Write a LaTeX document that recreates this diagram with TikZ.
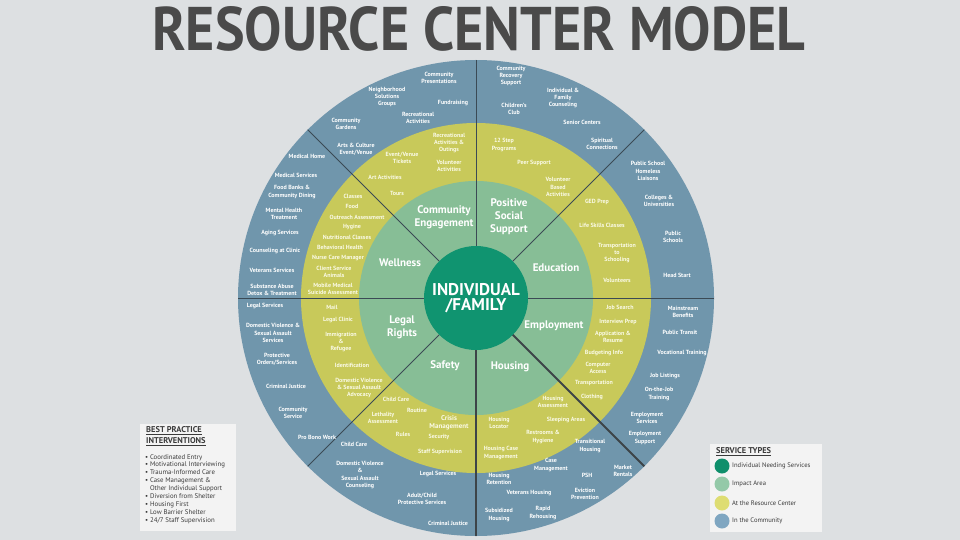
\documentclass[tikz,border=0pt]{standalone}
\usepackage{fontspec}
\setmainfont{PT Sans}
\usepackage{graphicx}
\definecolor{bgc}{HTML}{DDE0E2}
\definecolor{ringblue}{HTML}{7096AC}
\definecolor{ringyel}{HTML}{C8C95A}
\definecolor{ringlg}{HTML}{87BE96}
\definecolor{ringdg}{HTML}{109470}
\definecolor{titlec}{HTML}{4A4A4A}
\definecolor{sepc}{HTML}{3B4A55}
\definecolor{thickc}{HTML}{3D4448}
\definecolor{cream}{HTML}{FAFAE6}
\definecolor{legbg}{HTML}{F3F3F3}
\definecolor{legtx}{HTML}{3A3A3A}
\definecolor{kdg}{HTML}{0F8F6B}
\definecolor{klg}{HTML}{94C9A8}
\definecolor{kyl}{HTML}{DEDD72}
\definecolor{kbl}{HTML}{7FA6C1}
\tikzset{
  bt/.style={text=white, font=\bfseries\fontsize{6}{7.3}\selectfont, align=center, inner sep=0pt},
  yt/.style={bt, text=cream},
  gt/.style={text=white, font=\bfseries\fontsize{11}{13}\selectfont, align=center, inner sep=0pt},
  sepline/.style={draw=sepc, line width=0.8pt},
  thickline/.style={draw=thickc, line width=2pt},
  keydot/.style={circle, inner sep=0pt, minimum size=15pt},
  keytx/.style={anchor=west, text=legtx, font=\fontsize{6.6}{7.5}\selectfont, inner sep=0pt},
}
\begin{document}
\begin{tikzpicture}[x=1pt,y=-1pt]
\useasboundingbox (0,0) rectangle (960,540);
\fill[bgc] (0,0) rectangle (960,540);

% title
\node[anchor=south west, inner sep=0pt, text=titlec] (title) at (152,52)
  {\resizebox{653pt}{44pt}{\bfseries RESOURCE CENTER MODEL}};

% rings
\coordinate (c) at (476,298);
\fill[ringblue] (c) circle[radius=238pt];
\fill[ringyel] (c) circle[radius=175pt];
\fill[ringlg] (c) circle[radius=117pt];

% separators
\draw[sepline] (c) -- ++(0:238pt);
\draw[sepline] (c) -- ++(45:238pt);
\draw[sepline] (c) -- ++(90:238pt);
\draw[sepline] (c) -- ++(135:238pt);
\draw[sepline] (c) -- ++(180:238pt);
\draw[sepline] (c) -- ++(225:238pt);
\draw[thickline] (c) -- ++(270:238pt);
\draw[thickline] (c) -- ++(315:238pt);

\node[circle, fill=ringdg, minimum size=104pt, inner sep=0pt, text=white, font=\bfseries\fontsize{17}{15}\selectfont, align=center] (core) at (c) {INDIVIDUAL\\/FAMILY};

% impact areas
\node[gt] (g1) at (444,217) {Community\\Engagement};
\node[gt] (g2) at (509,217) {Positive\\Social\\Support};
\node[gt] (g3) at (400,263) {Wellness};
\node[gt] (g4) at (556,268) {Education};
\node[gt] (g5) at (402,327) {Legal\\Rights};
\node[gt] (g6) at (554,326) {Employment};
\node[gt] (g7) at (445,366) {Safety};
\node[gt] (g8) at (510,367) {Housing};

% community ring
\node[bt] (b1) at (439,78) {Community\\Presentations};
\node[bt] (b2) at (387,97) {Neighborhood\\Solutions\\Groups};
\node[bt] (b3) at (453,103) {Fundraising};
\node[bt] (b4) at (418,118) {Recreational\\Activities};
\node[bt] (b5) at (346,124) {Community\\Gardens};
\node[bt] (b6) at (356,149) {Arts \& Culture\\Event/Venue};
\node[bt] (b7) at (307,156) {Medical Home};
\node[bt] (b8) at (296,175) {Medical Services};
\node[bt] (b9) at (292,192) {Food Banks \&\\Community Dining};
\node[bt] (b10) at (284,214) {Mental Health\\Treatment};
\node[bt] (b11) at (280,233) {Aging Services};
\node[bt] (b12) at (275,251) {Counseling at Clinic};
\node[bt] (b13) at (272,270) {Veterans Services};
\node[bt] (b14) at (272,290) {Substance Abuse\\Detox \& Treatment};
\node[bt] (b15) at (265,306) {Legal Services};
\node[bt] (b16) at (273,333) {Domestic Violence \&\\Sexual Assault\\Services};
\node[bt] (b17) at (277,359) {Protective\\Orders/Services};
\node[bt] (b18) at (286,386) {Criminal Justice};
\node[bt] (b19) at (293,413) {Community\\Service};
\node[bt] (b20) at (317,437) {Pro Bono Work};
\node[bt] (b21) at (354,444) {Child Care};
\node[bt] (b22) at (360,475) {Domestic Violence\\\&\\Sexual Assault\\Counseling};
\node[bt] (b23) at (438,474) {Legal Services};
\node[bt] (b24) at (422,499) {Adult/Child\\Protective Services};
\node[bt] (b25) at (448,523) {Criminal Justice};
\node[bt] (b26) at (511,76) {Community\\Recovery\\Support};
\node[bt] (b27) at (563,98) {Individual \&\\Family\\Counseling};
\node[bt] (b28) at (514,109) {Children's\\Club};
\node[bt] (b29) at (582,122) {Senior Centers};
\node[bt] (b30) at (602,144) {Spiritual\\Connections};
\node[bt] (b31) at (648,171) {Public School\\Homeless\\Liaisons};
\node[bt] (b32) at (659,201) {Colleges \&\\Universities};
\node[bt] (b33) at (673,237) {Public\\Schools};
\node[bt] (b34) at (677,275) {Head Start};
\node[bt] (b35) at (683,312) {Mainstream\\Benefits};
\node[bt] (b36) at (680,332) {Public Transit};
\node[bt] (b37) at (682,353) {Vocational Training};
\node[bt] (b38) at (665,376) {Job Listings};
\node[bt] (b39) at (659,394) {On-the-Job\\Training};
\node[bt] (b40) at (647,418) {Employment\\Services};
\node[bt] (b41) at (645,438) {Employment\\Support};
\node[bt] (b42) at (590,446) {Transitional\\Housing};
\node[bt] (b43) at (551,465) {Case\\Management};
\node[bt] (b44) at (623,471) {Market\\Rentals};
\node[bt] (b45) at (587,475) {PSH};
\node[bt] (b46) at (499,479) {Housing\\Retention};
\node[bt] (b47) at (529,493) {Veterans Housing};
\node[bt] (b48) at (585,494) {Eviction\\Prevention};
\node[bt] (b49) at (499,515) {Subsidized\\Housing};
\node[bt] (b50) at (543,513) {Rapid\\Rehousing};

% resource center ring
\node[yt] (y1) at (449,143) {Recreational\\Activities \&\\Outings};
\node[yt] (y2) at (402,158) {Event/Venue\\Tickets};
\node[yt] (y3) at (449,166) {Volunteer\\Activities};
\node[yt] (y4) at (385,177) {Art Activities};
\node[yt] (y5) at (397,193) {Tours};
\node[yt] (y6) at (353,196) {Classes};
\node[yt] (y7) at (352,206) {Food};
\node[yt] (y8) at (357,217) {Outreach Assessment};
\node[yt] (y9) at (352,227) {Hygine};
\node[yt] (y10) at (347,237) {Nutritional Classes};
\node[yt] (y11) at (340,247) {Behavioral Health};
\node[yt] (y12) at (338,258) {Nurse Care Manager};
\node[yt] (y13) at (334,272) {Client Service\\Animals};
\node[yt] (y14) at (333,289) {Mobile Medical\\Suicide Assessment};
\node[yt] (y15) at (332,307) {Mail};
\node[yt] (y16) at (338,320) {Legal Clinic};
\node[yt] (y17) at (341,342) {Immigration\\\&\\Refugee};
\node[yt] (y18) at (352,365) {Identification};
\node[yt] (y19) at (359,388) {Domestic Violence\\\& Sexual Assault\\Advocacy};
\node[yt] (y20) at (396,399) {Child Care};
\node[yt] (y21) at (383,418) {Lethality\\Assessment};
\node[yt] (y22) at (417,410) {Routine};
\node[yt, font=\bfseries\fontsize{7}{8}\selectfont] (y23) at (449,423) {Crisis\\Management};
\node[yt] (y24) at (403,434) {Rules};
\node[yt] (y25) at (439,437) {Security};
\node[yt] (y26) at (440,452) {Staff Supervision};
\node[yt] (y27) at (504,145) {12 Step\\Programs};
\node[yt] (y28) at (534,163) {Peer Support};
\node[yt] (y29) at (558,187) {Volunteer\\Based\\Activities};
\node[yt] (y30) at (597,202) {GED Prep};
\node[yt] (y31) at (602,225) {Life Skills Classes};
\node[yt] (y32) at (617,253) {Transportation\\to\\Schooling};
\node[yt] (y33) at (617,280) {Volunteers};
\node[yt] (y34) at (620,307) {Job Search};
\node[yt] (y35) at (618,322) {Interview Prep};
\node[yt] (y36) at (613,337) {Application \&\\Resume};
\node[yt] (y37) at (604,353) {Budgeting Info};
\node[yt] (y38) at (598,368) {Computer\\Access};
\node[yt] (y39) at (594,383) {Transportation};
\node[yt] (y40) at (592,397) {Clothing};
\node[yt] (y41) at (553,402) {Housing\\Assessment};
\node[yt] (y42) at (499,423) {Housing\\Locator};
\node[yt] (y43) at (566,420) {Sleeping Areas};
\node[yt] (y44) at (543,437) {Restrooms \&\\Hygiene};
\node[yt] (y45) at (501,453) {Housing Case\\Management};

% left legend
\fill[legbg] (140,424) rectangle (236,531);
\node[anchor=north west, align=left, inner sep=0pt, text=legtx, font=\bfseries\fontsize{8.4}{11}\selectfont] (bph) at (146,426) {\underline{BEST PRACTICE}\\\underline{INTERVENTIONS}};
\node[anchor=north west, align=left, inner sep=0pt, text=legtx, font=\fontsize{6.8}{7.9}\selectfont] (bpl) at (145,454)
 {\textbullet\ Coordinated Entry\\
  \textbullet\ Motivational Interviewing\\
  \textbullet\ Trauma-Informed Care\\
  \textbullet\ Case Management \&\\
  \hphantom{\textbullet\ }Other Individual Support\\
  \textbullet\ Diversion from Shelter\\
  \textbullet\ Housing First\\
  \textbullet\ Low Barrier Shelter\\
  \textbullet\ 24/7 Staff Supervision};

% right legend
\fill[legbg] (710,444) rectangle (822,532);
\node[anchor=west, inner sep=0pt, text=legtx, font=\bfseries\fontsize{8.4}{10}\selectfont] (sth) at (716,452) {\underline{SERVICE TYPES}};
\node[keydot, fill=kdg] (k1) at (722,466) {};
\node[keydot, fill=klg] (k2) at (722,484) {};
\node[keydot, fill=kyl] (k3) at (722,503) {};
\node[keydot, fill=kbl] (k4) at (722,521) {};
\node[keytx] (kt1) at (732,466) {Individual Needing Services};
\node[keytx] (kt2) at (732,484) {Impact Area};
\node[keytx] (kt3) at (732,503) {At the Resource Center};
\node[keytx] (kt4) at (732,521) {In the Community};
\end{tikzpicture}
\end{document}
